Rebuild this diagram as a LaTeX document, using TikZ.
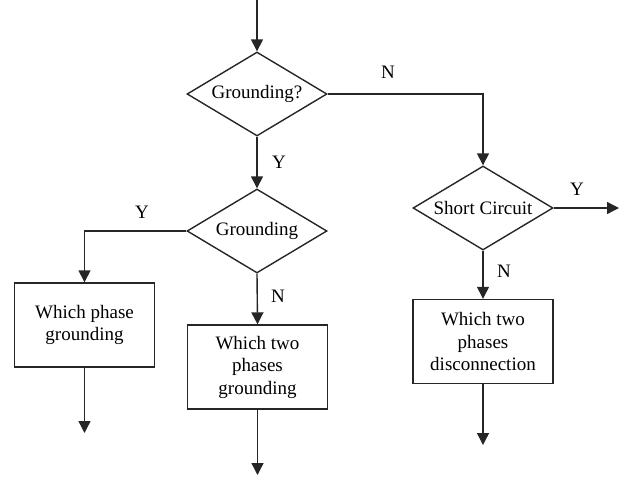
\documentclass[tikz,border=0pt]{standalone}
\usepackage{fontspec}
\setmainfont{Liberation Serif}
\usetikzlibrary{shapes.geometric,arrows.meta}
\begin{document}
\begin{tikzpicture}[x=1pt,y=-1pt,
  every node/.style={font=\fontsize{19}{22.5}\selectfont},
  line/.style={draw=black!85,line width=1.4pt},
  flow/.style={line,-{Triangle[width=12pt,length=12pt]}},
  decision/.style={line,diamond,aspect=1.667,inner sep=0pt,
    minimum width=140pt,minimum height=84pt},
  stepbox/.style={line,rectangle,inner sep=0pt,minimum width=140pt,
    minimum height=84pt,align=center},
  lbl/.style={inner sep=0pt}]
\useasboundingbox (0,0) rectangle (626,477);

% decisions
\node[decision] (d1) at (257,94) {Grounding?};
\node[decision] (d2) at (257,231) {Grounding};
\node[decision] (d3) at (483,208) {Short Circuit};

% process boxes
\node[stepbox] (b1) at (84.5,325) {Which phase\\grounding};
\node[stepbox] (b2) at (257.5,367) {Which two\\phases\\grounding};
\node[stepbox] (b3) at (483,341.5) {Which two\\phases\\disconnection};

% free ends
\coordinate (in) at (257,0);
\coordinate (o1) at (84.5,433);
\coordinate (o2) at (257.5,475);
\coordinate (o3) at (483,445);
\coordinate (oy) at (619,208);

% connectors
\draw[flow] (in) -- (d1.north);
\draw[flow] (d1.east) -| (d3.north);
\draw[flow] (d1.south) -- (d2.north);
\draw[flow] (d2.west) -| (b1.north);
\draw[flow] (d2.south) -- (b2.north);
\draw[flow] (d3.east) -- (oy);
\draw[flow] (d3.south) -- (b3.north);
\draw[flow] (b1.south) -- (o1);
\draw[flow] (b2.south) -- (o2);
\draw[flow] (b3.south) -- (o3);

% branch labels
\node[lbl] (n1) at (388,72) {N};
\node[lbl] (y1) at (279,162) {Y};
\node[lbl] (y2) at (142,212) {Y};
\node[lbl] (n2) at (278,296) {N};
\node[lbl] (y3) at (577,189) {Y};
\node[lbl] (n3) at (504,271) {N};
\end{tikzpicture}
\end{document}
